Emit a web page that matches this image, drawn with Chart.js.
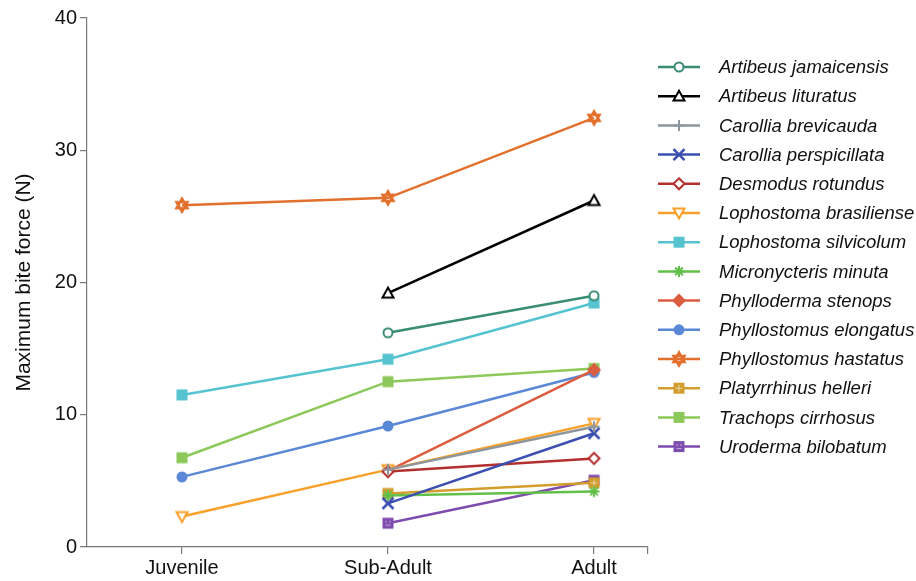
<!DOCTYPE html>
<html>
<head>
<meta charset="utf-8">
<script src="https://cdn.jsdelivr.net/npm/chart.js@4"></script>
<style>
  body { margin: 0; background: #fff; }
  #wrap { width: 916px; height: 581px; }
</style>
</head>
<body>
<div id="wrap"><canvas id="biteChart" width="916" height="581"></canvas></div>
<script>
// stages on the x axis (positions 1, 2, 3)
const stages = ['Juvenile', 'Sub-Adult', 'Adult'];
const yTicks = [0, 10, 20, 30, 40];

// maximum bite force (N) per stage, null = not measured
const artibeusJamaicensis     = [null, 16.2, 19.0];
const artibeusLituratus       = [null, 19.2, 26.2];
const carolliaBrevicauda      = [null, 5.85, 9.1];
const carolliaPerspicillata   = [null, 3.3, 8.6];
const desmodusRotundus        = [null, 5.7, 6.7];
const lophostomaBrasiliense   = [2.3, 5.85, 9.35];
const lophostomaSilvicolum    = [11.5, 14.2, 18.45];
const micronycterisMinuta     = [null, 3.9, 4.2];
const phyllodermaStenops      = [null, 5.75, 13.4];
const phyllostomusElongatus   = [5.3, 9.15, 13.2];
const phyllostomusHastatus    = [25.85, 26.4, 32.45];
const platyrrhinusHelleri     = [null, 4.05, 4.85];
const trachopsCirrhosus       = [6.75, 12.5, 13.5];
const urodermaBilobatum       = [null, 1.8, 5.05];

const speciesNames = [
    'Artibeus jamaicensis', 'Artibeus lituratus', 'Carollia brevicauda', 'Carollia perspicillata',
    'Desmodus rotundus', 'Lophostoma brasiliense', 'Lophostoma silvicolum', 'Micronycteris minuta',
    'Phylloderma stenops', 'Phyllostomus elongatus', 'Phyllostomus hastatus', 'Platyrrhinus helleri',
    'Trachops cirrhosus', 'Uroderma bilobatum'
];
const speciesValues = [
    artibeusJamaicensis, artibeusLituratus, carolliaBrevicauda, carolliaPerspicillata,
    desmodusRotundus, lophostomaBrasiliense, lophostomaSilvicolum, micronycterisMinuta,
    phyllodermaStenops, phyllostomusElongatus, phyllostomusHastatus, platyrrhinusHelleri,
    trachopsCirrhosus, urodermaBilobatum
];
const speciesColors = [
    '#3a8c74', '#000000', '#8c969c', '#3a4fb0',
    '#b2302e', '#f9a02a', '#55c3d0', '#62c04a',
    '#dc5c40', '#5b88d6', '#e2702c', '#d29d2c',
    '#8cc85a', '#7e4cae'
];
const speciesMarkers = [
    'circleOpen', 'triOpen', 'plus', 'cross',
    'diamondOpen', 'triDownOpen', 'square', 'asterisk',
    'diamond', 'circle', 'hexagram', 'squarePlus',
    'square', 'squareDot'
];

function drawMarker(ctx, shape, x, y, color) {
    const s = 5.5;
    ctx.save();
    ctx.strokeStyle = color;
    ctx.fillStyle = color;
    ctx.lineWidth = 2;
    ctx.lineJoin = 'miter';
    ctx.beginPath();
    switch (shape) {
        case 'circleOpen':
            ctx.arc(x, y, s - 1, 0, Math.PI * 2);
            ctx.fillStyle = '#fff'; ctx.fill(); ctx.stroke();
            break;
        case 'circle':
            ctx.arc(x, y, s, 0, Math.PI * 2);
            ctx.fill();
            break;
        case 'triOpen':
            ctx.moveTo(x, y - s); ctx.lineTo(x + s, y + s * 0.8); ctx.lineTo(x - s, y + s * 0.8); ctx.closePath();
            ctx.fillStyle = '#fff'; ctx.fill(); ctx.stroke();
            break;
        case 'triDownOpen':
            ctx.moveTo(x, y + s); ctx.lineTo(x + s, y - s * 0.8); ctx.lineTo(x - s, y - s * 0.8); ctx.closePath();
            ctx.fillStyle = '#fff'; ctx.fill(); ctx.stroke();
            break;
        case 'plus':
            ctx.moveTo(x - s, y); ctx.lineTo(x + s, y); ctx.moveTo(x, y - s); ctx.lineTo(x, y + s);
            ctx.stroke();
            break;
        case 'cross':
            ctx.lineWidth = 2.5;
            ctx.moveTo(x - s, y - s); ctx.lineTo(x + s, y + s); ctx.moveTo(x + s, y - s); ctx.lineTo(x - s, y + s);
            ctx.stroke();
            break;
        case 'asterisk':
            ctx.moveTo(x - s, y); ctx.lineTo(x + s, y); ctx.moveTo(x, y - s); ctx.lineTo(x, y + s);
            ctx.moveTo(x - s * 0.7, y - s * 0.7); ctx.lineTo(x + s * 0.7, y + s * 0.7);
            ctx.moveTo(x + s * 0.7, y - s * 0.7); ctx.lineTo(x - s * 0.7, y + s * 0.7);
            ctx.stroke();
            break;
        case 'diamondOpen':
            ctx.moveTo(x, y - s); ctx.lineTo(x + s, y); ctx.lineTo(x, y + s); ctx.lineTo(x - s, y); ctx.closePath();
            ctx.fillStyle = '#fff'; ctx.fill(); ctx.stroke();
            break;
        case 'diamond':
            ctx.moveTo(x, y - s - 1.5); ctx.lineTo(x + s + 1.5, y); ctx.lineTo(x, y + s + 1.5); ctx.lineTo(x - s - 1.5, y); ctx.closePath();
            ctx.fill();
            break;
        case 'square':
            ctx.rect(x - s, y - s, 2 * s, 2 * s);
            ctx.fill();
            break;
        case 'squarePlus':
        case 'squareDot':
            ctx.rect(x - s, y - s, 2 * s, 2 * s);
            ctx.fill();
            ctx.beginPath();
            ctx.strokeStyle = 'rgba(255,255,255,0.55)';
            ctx.lineWidth = 1;
            if (shape === 'squarePlus') {
                ctx.moveTo(x - s + 2, y); ctx.lineTo(x + s - 2, y); ctx.moveTo(x, y - s + 2); ctx.lineTo(x, y + s - 2);
            } else {
                ctx.moveTo(x - 2.5, y + 2); ctx.lineTo(x + 2.5, y + 2);
                ctx.moveTo(x - 2, y - 2.5); ctx.lineTo(x - 2, y - 0.5); ctx.moveTo(x + 2, y - 2.5); ctx.lineTo(x + 2, y - 0.5);
            }
            ctx.stroke();
            break;
        case 'hexagram':
            ctx.lineWidth = 2.5;
            ctx.moveTo(x, y - s - 1); ctx.lineTo(x + s, y + s * 0.55); ctx.lineTo(x - s, y + s * 0.55); ctx.closePath();
            ctx.moveTo(x, y + s + 1); ctx.lineTo(x + s, y - s * 0.55); ctx.lineTo(x - s, y - s * 0.55); ctx.closePath();
            ctx.stroke();
            break;
    }
    ctx.restore();
}

function markerCanvas(shape, color) {
    const c = document.createElement('canvas');
    c.width = 18; c.height = 18;
    drawMarker(c.getContext('2d'), shape, 9, 9, color);
    return c;
}

const fontFamily = '"Liberation Sans", Arial, Helvetica, sans-serif';

// legend drawn by hand: a line with the marker in its middle, then the italic name
const sideLegend = {
    id: 'sideLegend',
    afterDraw(chart) {
        const ctx = chart.ctx;
        ctx.save();
        speciesNames.forEach((name, i) => {
            const y = 67 + i * 29.2;
            ctx.strokeStyle = speciesColors[i];
            ctx.lineWidth = 2.5;
            ctx.beginPath();
            ctx.moveTo(658, y); ctx.lineTo(700, y);
            ctx.stroke();
            drawMarker(ctx, speciesMarkers[i], 679, y, speciesColors[i]);
            ctx.fillStyle = '#111';
            ctx.font = 'italic 18.5px ' + fontFamily;
            ctx.textBaseline = 'middle';
            ctx.textAlign = 'left';
            ctx.fillText(name, 719, y + 1);
        });
        ctx.restore();
    }
};

const datasets = speciesNames.map((name, i) => ({
    label: name,
    data: speciesValues[i].map((v, k) => v == null ? null : { x: k + 1, y: v }).filter(p => p),
    borderColor: speciesColors[i],
    backgroundColor: speciesColors[i],
    borderWidth: 2.5,
    pointStyle: markerCanvas(speciesMarkers[i], speciesColors[i]),
    pointRadius: 6,
    tension: 0
}));

const axisGrey = '#777';

new Chart(document.getElementById('biteChart'), {
    type: 'line',
    data: { datasets: datasets },
    options: {
        responsive: false,
        animation: false,
        layout: { padding: { top: 18, right: 268, left: 0, bottom: 0 } },
        plugins: {
            legend: { display: false },
            tooltip: { enabled: false }
        },
        scales: {
            x: {
                type: 'linear',
                min: 0.539,
                max: 3.262,
                afterBuildTicks: (axis) => {
                    axis.ticks = [1, 2, 3, 3.262].map(v => ({ value: v }));
                },
                afterFit: (scale) => { scale.height = 34; },
                ticks: {
                    autoSkip: false,
                    maxRotation: 0,
                    padding: 2,
                    color: '#111',
                    font: { size: 20, family: fontFamily },
                    callback: (v) => Number.isInteger(v) ? stages[v - 1] : ''
                },
                grid: { drawOnChartArea: false, drawTicks: true, tickLength: 7, color: axisGrey, lineWidth: 1.2 },
                border: { display: true, color: axisGrey, width: 1.2 }
            },
            y: {
                min: 0,
                max: 40,
                afterBuildTicks: (axis) => {
                    axis.ticks = yTicks.map(v => ({ value: v }));
                },
                afterFit: (scale) => { scale.width = 87; },
                ticks: {
                    padding: 3,
                    color: '#111',
                    font: { size: 20, family: fontFamily }
                },
                title: {
                    display: true,
                    text: 'Maximum bite force (N)',
                    color: '#111',
                    font: { size: 21, family: fontFamily },
                    padding: { top: 12, bottom: 4 }
                },
                grid: { drawOnChartArea: false, drawTicks: true, tickLength: 7, color: axisGrey, lineWidth: 1.2 },
                border: { display: true, color: axisGrey, width: 1.2 }
            }
        }
    },
    plugins: [sideLegend]
});
</script>
</body>
</html>
